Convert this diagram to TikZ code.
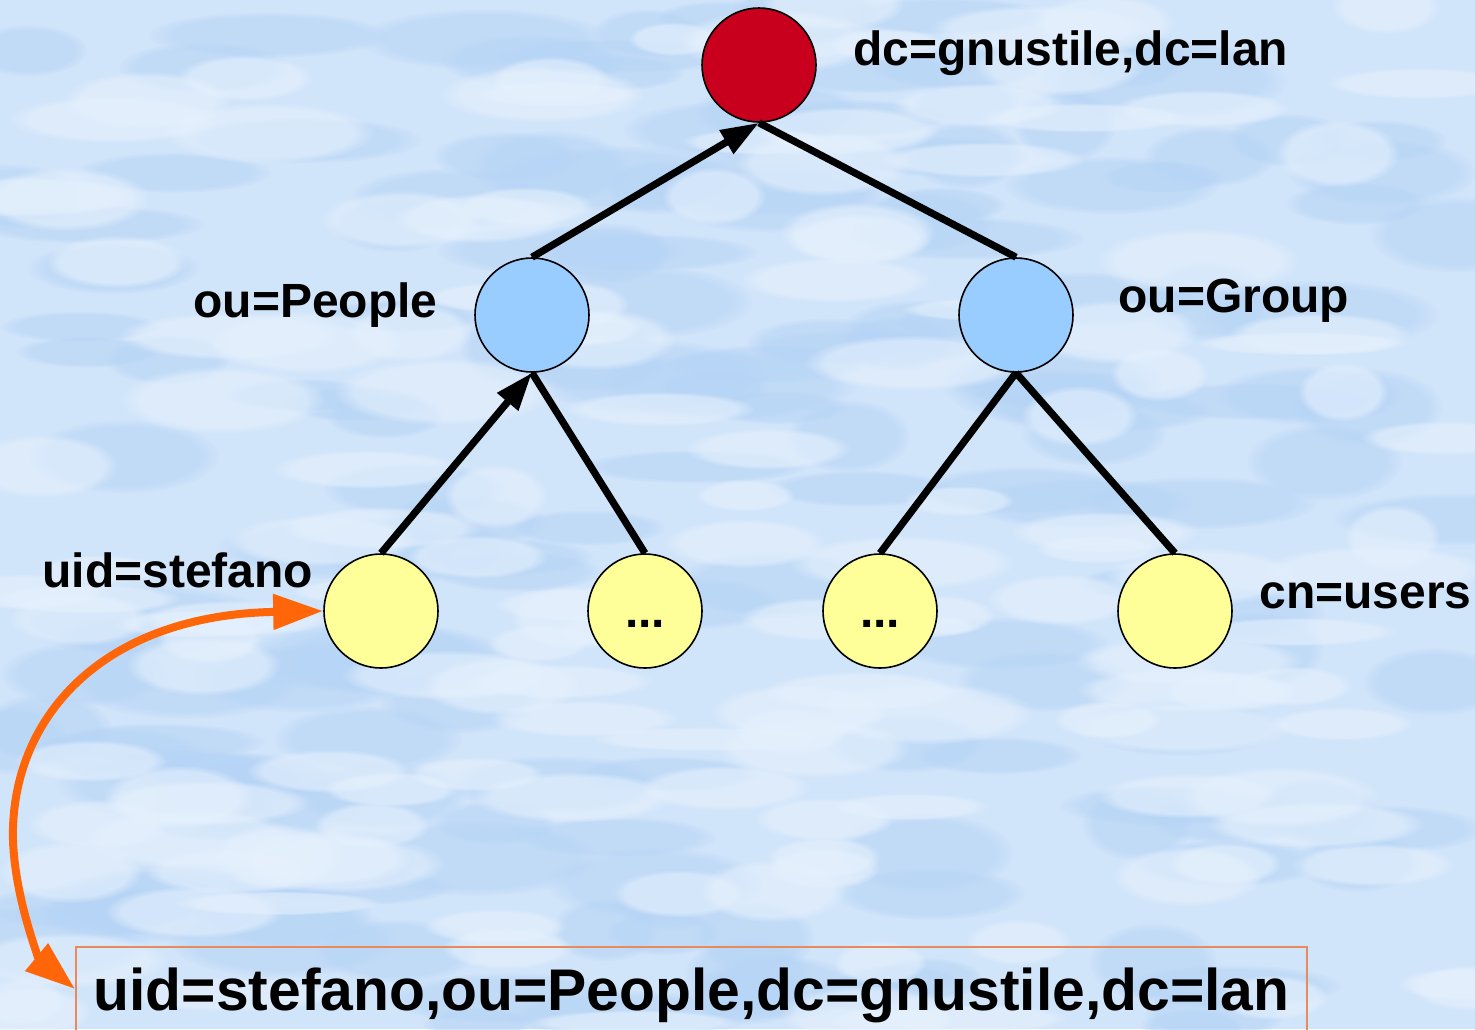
\documentclass[tikz,border=0pt]{standalone}
\usepackage{fontspec}
\setmainfont{Liberation Sans}
\usetikzlibrary{arrows.meta,fadings}

\definecolor{skyblue}{HTML}{D0E4FA}
\definecolor{skydeep}{HTML}{B6D4F6}
\definecolor{skylight}{HTML}{E6F1FD}
\definecolor{rootred}{HTML}{C8001E}
\definecolor{oublue}{HTML}{99CCFF}
\definecolor{leafyellow}{HTML}{FFFF99}
\definecolor{linkorange}{HTML}{FF6609}
\definecolor{boxorange}{HTML}{E98A5C}

\tikzset{
  entry/.style={circle, draw=black, line width=0.8pt, minimum size=57pt, inner sep=0pt},
  rootentry/.style={entry, fill=rootred},
  ouentry/.style={entry, fill=oublue},
  leafentry/.style={entry, fill=leafyellow},
  dnlabel/.style={font=\fontsize{24}{28}\selectfont\bfseries, inner sep=0pt},
  branch/.style={line width=3.6pt, draw=black},
  upbranch/.style={branch, -{Triangle[length=19pt,width=13pt]}},
  dnlink/.style={line width=4pt, draw=linkorange,
    {Triangle[length=25pt,width=17pt]}-{Triangle[length=25pt,width=17pt]}},
  dnbox/.style={draw=boxorange, line width=1pt, minimum width=615.5pt,
    minimum height=42pt, inner sep=0pt, text height=26pt, text depth=5pt,
    font=\fontsize{29.4}{34}\selectfont\bfseries},
  cloud/.style={path fading=circle with fuzzy edge 20 percent}
}

\begin{document}
\begin{tikzpicture}[x=0.5pt,y=-0.5pt]
  \useasboundingbox (0,0) rectangle (1475,1029);
  \clip (0,0) rectangle (1475,1029);

  % cloudy sky backdrop
  \fill[skyblue] (0,0) rectangle (1475,1029);
  \pgfmathsetseed{7}
  \foreach \i in {1,...,170}{
    \pgfmathsetmacro{\cx}{rnd*1475}
    \pgfmathsetmacro{\cy}{rnd*1029}
    \pgfmathsetmacro{\rx}{50+rnd*80}
    \pgfmathsetmacro{\ry}{15+rnd*25}
    \fill[skydeep, cloud, opacity=0.55] (\cx,\cy) ellipse [x radius=\rx, y radius=\ry];
  }
  \foreach \i in {1,...,150}{
    \pgfmathsetmacro{\cx}{rnd*1475}
    \pgfmathsetmacro{\cy}{rnd*1029}
    \pgfmathsetmacro{\rx}{45+rnd*70}
    \pgfmathsetmacro{\ry}{12+rnd*22}
    \fill[skylight, cloud, opacity=0.6] (\cx,\cy) ellipse [x radius=\rx, y radius=\ry];
  }

  % directory entries
  \node[rootentry] (root) at (759,65) {};
  \node[ouentry] (people) at (532,315) {};
  \node[ouentry] (group) at (1016,315) {};
  \node[leafentry] (stefano) at (381,611) {};
  \node[leafentry] (pmore) at (645,611) {};
  \node[leafentry] (gmore) at (880,611) {};
  \node[leafentry] (users) at (1175,611) {};

  % entry names
  \node[dnlabel, anchor=base west] (rootname) at (853,65) {dc=gnustile,dc=lan};
  \node[dnlabel, anchor=base west] (peoplename) at (193,317) {ou=People};
  \node[dnlabel, anchor=base west] (groupname) at (1118,312) {ou=Group};
  \node[dnlabel, anchor=base west] (stefanoname) at (42,587) {uid=stefano};
  \node[dnlabel, anchor=base west] (usersname) at (1259,608) {cn=users};
  \node[dnlabel, anchor=base] (pdots) at (645,627) {...};
  \node[dnlabel, anchor=base] (gdots) at (880,627) {...};

  % tree branches
  \draw[upbranch] (people.north) -- (root.south);
  \draw[branch] (group.north) -- (root.south);
  \draw[upbranch] (stefano.north) -- (people.south);
  \draw[branch] (pmore.north) -- (people.south);
  \draw[branch] (gmore.north) -- (group.south);
  \draw[branch] (users.north) -- (group.south);

  % full distinguished name
  \node[dnbox] (fulldn) at (691.5,989) {uid=stefano,ou=People,dc=gnustile,dc=lan};
  \coordinate (bend) at (13,840);
  \draw[dnlink] (stefano.west) .. controls (100,615) and (10,720) .. (bend)
    .. controls (15,900) and (40,960) .. (fulldn.west);
\end{tikzpicture}
\end{document}
